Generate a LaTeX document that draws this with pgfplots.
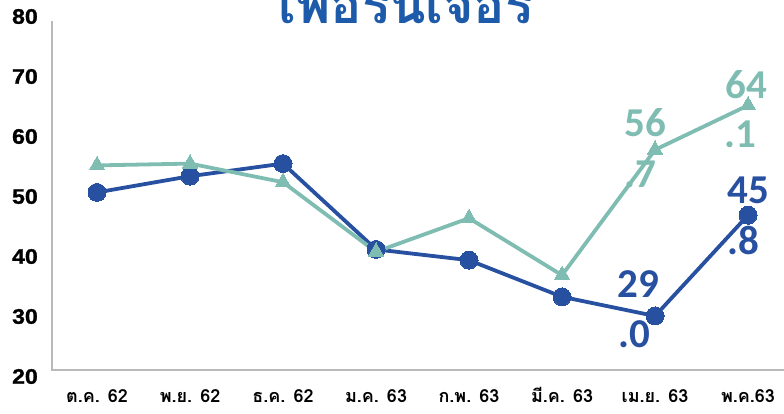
\documentclass[border=0pt]{standalone}
\usepackage{pgfplots}
\pgfplotsset{compat=1.18}
\usepackage{fontspec}
\setmainfont{Liberation Sans}
\newfontfamily\tickfont[FakeStretch=1.1, FakeBold=1.2]{Liberation Sans Bold}
\newfontfamily\thaifont[Script=Thai]{Loma}
\newfontfamily\labfont{Carlito}
\definecolor{dblue}{RGB}{40,80,160}
\definecolor{teal2}{RGB}{127,188,178}
\definecolor{tblue}{RGB}{30,90,170}
\definecolor{axgray}{RGB}{185,185,185}
\begin{document}
\begin{tikzpicture}
\useasboundingbox (-52pt,-44pt) rectangle (732pt,370pt);
\clip (-52pt,-44pt) rectangle (732pt,370pt);
\begin{axis}[
  at={(0pt,0pt)}, anchor=south west,
  scale only axis, width=732pt, height=360pt,
  xmin=-0.484, xmax=7.387, ymin=20, ymax=80,
  axis line style={draw=none},
  tick style={draw=none}, major tick length=0pt,
  xtick={0,...,7},
  xticklabels={ต.ค. 62, พ.ย. 62, ธ.ค. 62, ม.ค. 63, ก.พ. 63, มี.ค. 63, เม.ย. 63, พ.ค.63},
  xticklabel style={font=\thaifont\bfseries\fontsize{18}{18}\selectfont, anchor=base, yshift=-33pt},
  ytick={20,30,...,80},
  /pgf/number format/assume math mode=true,
  yticklabel style={font=\tickfont\fontsize{21}{21}\selectfont, anchor=east, inner sep=0pt, xshift=-14pt, yshift=-6.5pt},
  clip=false,
]
\draw[axgray, line width=1.5pt] (axis cs:-0.484,78.2) -- (axis cs:-0.484,20) -- (axis cs:7.387,20);
\addplot[dblue, line width=3.8pt, mark=*, mark size=9pt, mark options={solid, fill=dblue, draw=dblue, line width=0pt}]
  coordinates {(0,49.6) (1,52.3) (2,54.4) (3,40.1) (4,38.3) (5,32.2) (6,29.0) (7,45.8)};
\addplot[teal2, line width=3.8pt, mark=triangle*, mark size=9pt, mark options={solid, fill=teal2, draw=teal2, line width=0pt}]
  coordinates {(0,54.1) (1,54.4) (2,51.3) (3,39.7) (4,45.3) (5,35.8) (6,56.7) (7,64.1)};
\begin{scope}[every node/.style={font=\labfont\bfseries\fontsize{41}{41}\selectfont, inner sep=0pt, anchor=center}]
\node[teal2] at (axis cs:5.90,61.2) {56};
\node[teal2] at (axis cs:5.84,52.6) {.7};
\node[teal2] at (axis cs:6.98,67.5) {64};
\node[teal2] at (axis cs:6.92,59.2) {.1};
\node[dblue] at (axis cs:7.005,49.95) {45};
\node[dblue] at (axis cs:6.95,41.6) {.8};
\node[dblue] at (axis cs:5.82,34.3) {29};
\node[dblue] at (axis cs:5.78,26.0) {.0};
\end{scope}
\end{axis}
\node[tblue, font=\thaifont\bfseries\fontsize{52}{52}\selectfont, anchor=base, inner sep=0pt] at (354pt,346pt) {เฟอร์นิเจอร์};
\end{tikzpicture}
\end{document}
